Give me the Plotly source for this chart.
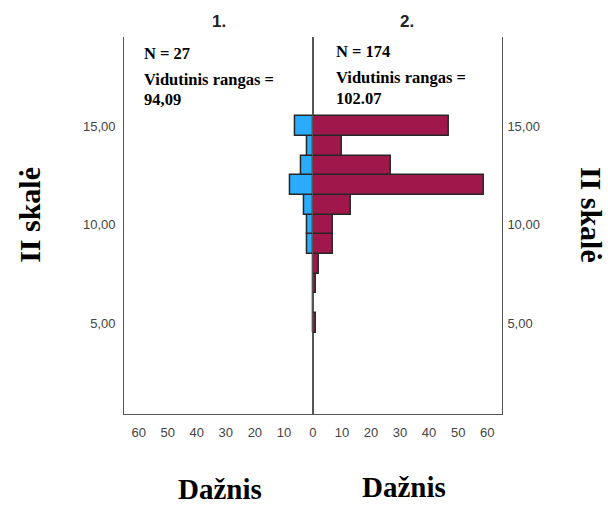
import plotly.graph_objects as go

# Score bins (II skalė) and frequency counts per group
bins = [5, 6, 7, 8, 9, 10, 11, 12, 13, 14, 15]
group1_counts = [0, 0, 0, 0, 2, 2, 3, 8, 4, 2, 6]
group2_counts = [1, 0, 1, 2, 7, 7, 13, 59, 27, 10, 47]

group_titles = ["1.", "2."]
group_n = ["N = 27", "N = 174"]
mean_ranks = ["94,09", "102.07"]

y_ticks = [5, 10, 15]
y_ticktext = ["5,00", "10,00", "15,00"]
x_ticks_left = [10, 20, 30, 40, 50, 60]
x_ticks_right = [0, 10, 20, 30, 40, 50, 60]

W, H = 608, 506
left_dom = [121 / W, 311 / W]
right_dom = [311 / W, 501 / W]
y_dom = [1 - 414 / H, 1 - 37 / H]
y_range = [0.38, 19.52]
x_max = 65

blue = "#2aabfb"
maroon = "#a0184b"
edge = "#262626"
tick_font = dict(family="Liberation Sans, Arial", size=13, color="#444444")
serif = "Liberation Serif, Times New Roman"

fig = go.Figure()
fig.add_trace(go.Bar(
    y=bins, x=group1_counts, orientation="h", width=1,
    marker=dict(color=blue, line=dict(color=edge, width=1.5)),
    xaxis="x", yaxis="y", showlegend=False,
))
fig.add_trace(go.Bar(
    y=bins, x=group2_counts, orientation="h", width=1,
    marker=dict(color=maroon, line=dict(color=edge, width=1.5)),
    xaxis="x2", yaxis="y2", showlegend=False,
))

axis_common = dict(showgrid=False, zeroline=False, ticks="", linecolor="#555555",
                   linewidth=1.2, tickfont=tick_font)

fig.update_layout(
    width=W, height=H,
    margin=dict(l=0, r=0, t=0, b=0),
    paper_bgcolor="white", plot_bgcolor="white",
    bargap=0,
    xaxis=dict(domain=left_dom, range=[x_max, 0], anchor="y", showline=True,
               tickvals=x_ticks_left, ticklabelstandoff=6, **axis_common),
    xaxis2=dict(domain=right_dom, range=[0, x_max], anchor="y2", showline=True,
                tickvals=x_ticks_right, ticklabelstandoff=6, **axis_common),
    yaxis=dict(domain=y_dom, range=y_range, anchor="x", side="left", showline=True,
               mirror=True, tickvals=y_ticks, ticktext=y_ticktext,
               ticklabelstandoff=5, **axis_common),
    yaxis2=dict(domain=y_dom, range=y_range, anchor="x2", side="right", showline=True,
                mirror=True, tickvals=y_ticks, ticktext=y_ticktext,
                ticklabelstandoff=2, **axis_common),
)

ann = []
# Group titles
for title, xc in zip(group_titles, [216, 406]):
    ann.append(dict(text=f"<b>{title}</b>", x=xc / W, y=1 - 22 / H, xref="paper", yref="paper",
                    xanchor="center", yanchor="middle", showarrow=False,
                    font=dict(family="Liberation Sans, Arial", size=17, color="#222222")))
# Group statistics
for n_txt, rank, x0, ys in zip(group_n, mean_ranks, [139, 332], [(53, 79, 100), (52, 77, 98)]):
    for txt, yy in zip([n_txt, "Vidutinis rangas =", rank], ys):
        ann.append(dict(text=f"<b>{txt}</b>", x=x0 / W, y=1 - yy / H, xref="paper", yref="paper",
                        xanchor="left", yanchor="middle", showarrow=False,
                        font=dict(family=serif, size=16.5, color="black")))
# Axis titles
ann.append(dict(text="<b>II skalė</b>", x=25 / W, y=1 - 215 / H, xref="paper", yref="paper",
                xanchor="center", yanchor="middle",
                textangle=-90, showarrow=False, font=dict(family=serif, size=30, color="black")))
ann.append(dict(text="<b>II skalė</b>", x=592 / W, y=1 - 215 / H, xref="paper", yref="paper",
                xanchor="center", yanchor="middle",
                textangle=90, showarrow=False, font=dict(family=serif, size=30, color="black")))
for xc, yc in [(217, 489), (403, 487)]:
    ann.append(dict(text="<b>Dažnis</b>", x=xc / W, y=1 - yc / H, xref="paper", yref="paper",
                    xanchor="center", yanchor="middle",
                    showarrow=False, font=dict(family=serif, size=29, color="black")))
fig.update_layout(annotations=ann)

fig.write_html("out.html")
